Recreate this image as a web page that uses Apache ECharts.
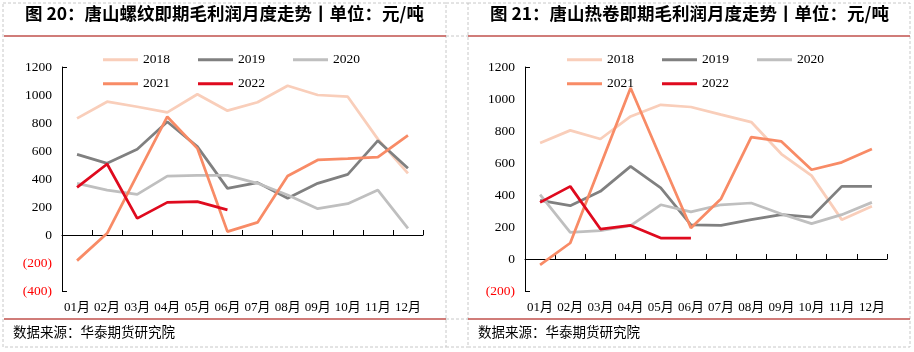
<!DOCTYPE html>
<html>
<head>
<meta charset="utf-8">
<script src="https://cdn.jsdelivr.net/npm/echarts@6/dist/echarts.min.js"></script>
<style>
  html, body { margin: 0; padding: 0; background: #fff; }
  #main { width: 914px; height: 352px; }
</style>
</head>
<body>
<div id="main"></div>
<script>
// 月份 / 年份
var months = ['01月', '02月', '03月', '04月', '05月', '06月', '07月', '08月', '09月', '10月', '11月', '12月'];
var years = ['2018', '2019', '2020', '2021', '2022'];
var colors = ['#F9CEBA', '#808080', '#BFBFBF', '#F88B66', '#DF0A1E'];

// 图20 唐山螺纹即期毛利润 (元/吨)
var rebar2018 = [833, 952, 916, 876, 1005, 888, 948, 1066, 1000, 988, 685, 440];
var rebar2019 = [576, 512, 612, 809, 631, 333, 374, 262, 369, 433, 674, 476];
var rebar2020 = [369, 321, 290, 421, 426, 426, 369, 286, 188, 224, 321, 48];
var rebar2021 = [-183, 12, 430, 845, 619, 24, 90, 421, 536, 545, 557, 712];
var rebar2022 = [340, 507, 119, 233, 238, 179];

// 图21 唐山热卷即期毛利润 (元/吨)
var hrc2018 = [725, 804, 750, 891, 964, 950, 902, 856, 656, 521, 246, 329];
var hrc2019 = [366, 333, 423, 579, 444, 214, 210, 246, 277, 262, 454, 454];
var hrc2020 = [402, 166, 177, 208, 339, 294, 339, 350, 281, 221, 277, 354];
var hrc2021 = [-36, 100, 585, 1069, 630, 194, 377, 762, 735, 558, 604, 687];
var hrc2022 = [354, 454, 187, 210, 131, 131];

var rebarData = [rebar2018, rebar2019, rebar2020, rebar2021, rebar2022];
var hrcData = [hrc2018, hrc2019, hrc2020, hrc2021, hrc2022];

var serif = '"Liberation Serif", "Times New Roman", "Noto Sans CJK SC", serif';
var cjk = '"Noto Sans CJK SC", sans-serif';

function makeSeries(list, idx) {
  return list.map(function (d, i) {
    return {
      name: years[i],
      type: 'line',
      xAxisIndex: idx,
      yAxisIndex: idx,
      data: d,
      symbol: 'none',
      lineStyle: { width: 2.75, color: colors[i] },
      itemStyle: { color: colors[i] },
      z: 2 + i
    };
  });
}

function makeLegend(left, top, names) {
  return {
    left: left,
    top: top,
    padding: 0,
    icon: 'rect',
    itemWidth: 35,
    itemHeight: 3,
    itemGap: 28,
    data: names,
    textStyle: { fontFamily: serif, fontSize: 13.5, color: '#000' },
    selectedMode: false
  };
}

function makeYAxis(idx, min) {
  return {
    type: 'value',
    gridIndex: idx,
    min: min,
    max: 1200,
    interval: 200,
    splitLine: { show: false },
    axisLine: { show: true, lineStyle: { color: '#000', width: 1 } },
    axisTick: { show: true, inside: true, length: 5, customValues: [min, 1200], lineStyle: { color: '#000' } },
    axisLabel: {
      margin: 10,
      fontFamily: serif,
      fontSize: 13.5,
      color: function (v) { return v < 0 ? '#FF0000' : '#000'; },
      formatter: function (v) { return v < 0 ? '(' + (-v) + ')' : String(v); }
    }
  };
}

function makeXAxis(idx) {
  return {
    type: 'category',
    gridIndex: idx,
    data: months,
    boundaryGap: true,
    axisLine: { onZero: true, lineStyle: { color: '#000', width: 1 } },
    axisTick: { show: true, inside: true, length: 5, alignWithLabel: false, lineStyle: { color: '#000' } },
    axisLabel: { margin: 10, interval: 0, fontFamily: serif, fontSize: 13, color: '#000' }
  };
}

function makeTitle(text, left, top, size, weight) {
  return {
    text: text, left: left, top: top, padding: 0,
    textStyle: { fontFamily: cjk, fontSize: size, fontWeight: weight, color: '#000' }
  };
}

var myChart = echarts.init(document.getElementById('main'), null, { renderer: 'canvas' });
var dash = { stroke: '#C8C8C8', lineWidth: 1, lineDash: [3, 2] };
var redLine = { stroke: '#C0504D', lineWidth: 1.5 };
var option = {
  backgroundColor: '#fff',
  animation: false,
  title: [
    makeTitle('图 20：唐山螺纹即期毛利润月度走势丨单位：元/吨', 25, 5, 17.5, 'bold'),
    makeTitle('图 21：唐山热卷即期毛利润月度走势丨单位：元/吨', 490, 5, 17.5, 'bold'),
    makeTitle('数据来源：华泰期货研究院', 13, 325, 13.5, 'normal'),
    makeTitle('数据来源：华泰期货研究院', 478, 325, 13.5, 'normal')
  ],
  legend: [
    makeLegend(103, 53, ['2018', '2019', '2020']),
    makeLegend(103, 77, ['2021', '2022']),
    makeLegend(567, 53, ['2018', '2019', '2020']),
    makeLegend(567, 77, ['2021', '2022'])
  ],
  grid: [
    { left: 62, top: 67, width: 361, height: 224 },
    { left: 525, top: 67, width: 362, height: 224 }
  ],
  xAxis: [makeXAxis(0), makeXAxis(1)],
  yAxis: [makeYAxis(0, -400), makeYAxis(1, -200)],
  series: makeSeries(rebarData, 0).concat(makeSeries(hrcData, 1)),
  graphic: [
    { type: 'rect', shape: { x: 3, y: 3, width: 443, height: 344 }, style: { fill: 'none', stroke: dash.stroke, lineWidth: 1, lineDash: dash.lineDash }, silent: true },
    { type: 'rect', shape: { x: 468, y: 3, width: 442, height: 344 }, style: { fill: 'none', stroke: dash.stroke, lineWidth: 1, lineDash: dash.lineDash }, silent: true },
    { type: 'line', shape: { x1: 446, y1: 3, x2: 468, y2: 3 }, style: dash, silent: true },
    { type: 'line', shape: { x1: 446, y1: 36, x2: 468, y2: 36 }, style: dash, silent: true },
    { type: 'line', shape: { x1: 446, y1: 319, x2: 468, y2: 319 }, style: dash, silent: true },
    { type: 'line', shape: { x1: 446, y1: 347, x2: 468, y2: 347 }, style: dash, silent: true },
    { type: 'line', shape: { x1: 4, y1: 36, x2: 446, y2: 36 }, style: redLine, silent: true },
    { type: 'line', shape: { x1: 468, y1: 36, x2: 910, y2: 36 }, style: redLine, silent: true },
    { type: 'line', shape: { x1: 4, y1: 319, x2: 446, y2: 319 }, style: redLine, silent: true },
    { type: 'line', shape: { x1: 468, y1: 319, x2: 910, y2: 319 }, style: redLine, silent: true }
  ]
};
myChart.setOption(option);
</script>
</body>
</html>
